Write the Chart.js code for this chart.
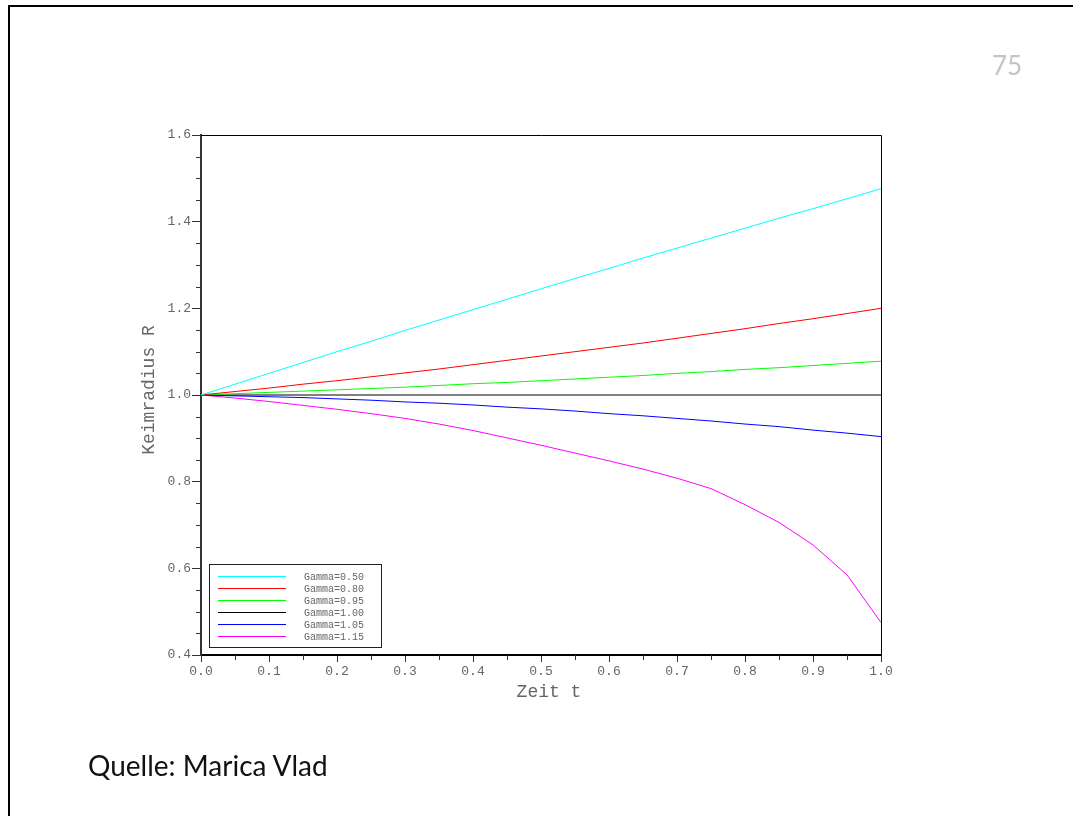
<!DOCTYPE html>
<html>
<head>
<meta charset="utf-8">
<script src="https://cdn.jsdelivr.net/npm/chart.js@4.4.1/dist/chart.umd.min.js"></script>
<style>
  html, body { margin: 0; padding: 0; background: #fff; }
  #page { position: relative; width: 1073px; height: 816px; overflow: hidden; }
  #frame { position: absolute; left: 8px; top: 5px; right: -10px; bottom: -10px;
           border-top: 2px solid #000; border-left: 2px solid #000; }
  #pageNo { position: absolute; left: 992px; top: 49px; font: 26px Lato, sans-serif; color: #c4c4c4; }
  #source { position: absolute; left: 88px; top: 748px; font: 28px Lato, sans-serif; color: #111; }
  #chart { position: absolute; left: 0; top: 0; }
</style>
</head>
<body>
<div id="page">
  <div id="frame"></div>
  <canvas id="chart" width="1073" height="816"></canvas>
  <div id="pageNo">75</div>
  <div id="source">Quelle: Marica Vlad</div>
</div>
<script>
const tValues = [0, 0.05, 0.10, 0.15, 0.20, 0.25, 0.30, 0.35, 0.40, 0.45, 0.50,
                 0.55, 0.60, 0.65, 0.70, 0.75, 0.80, 0.85, 0.90, 0.95, 1.00];

const gamma050 = [1.000, 1.025, 1.050, 1.075, 1.100, 1.124, 1.149, 1.173, 1.197, 1.221, 1.245,
                  1.269, 1.292, 1.316, 1.339, 1.362, 1.385, 1.408, 1.430, 1.453, 1.476];
const gamma080 = [1.000, 1.008, 1.016, 1.025, 1.033, 1.042, 1.051, 1.060, 1.070, 1.080, 1.090,
                  1.100, 1.110, 1.120, 1.131, 1.142, 1.153, 1.165, 1.176, 1.188, 1.200];
const gamma095 = [1.000, 1.003, 1.006, 1.009, 1.012, 1.015, 1.018, 1.022, 1.026, 1.029, 1.033,
                  1.037, 1.041, 1.045, 1.050, 1.054, 1.059, 1.063, 1.068, 1.073, 1.078];
const gamma100 = [1.000, 1.000, 1.000, 1.000, 1.000, 1.000, 1.000, 1.000, 1.000, 1.000, 1.000,
                  1.000, 1.000, 1.000, 1.000, 1.000, 1.000, 1.000, 1.000, 1.000, 1.000];
const gamma105 = [1.000, 0.998, 0.996, 0.994, 0.991, 0.988, 0.984, 0.981, 0.977, 0.972, 0.968,
                  0.963, 0.957, 0.952, 0.946, 0.940, 0.933, 0.927, 0.919, 0.912, 0.904];
const gamma115 = [1.000, 0.993, 0.985, 0.976, 0.967, 0.957, 0.946, 0.933, 0.918, 0.901, 0.884,
                  0.866, 0.848, 0.829, 0.808, 0.784, 0.747, 0.706, 0.654, 0.585, 0.475];

const seriesLabels = ['Gamma=0.50', 'Gamma=0.80', 'Gamma=0.95', 'Gamma=1.00', 'Gamma=1.05', 'Gamma=1.15'];
const seriesColors = ['#00ffff', '#ff0000', '#00ff00', '#000000', '#0000ff', '#ff00ff'];
const seriesValues = [gamma050, gamma080, gamma095, gamma100, gamma105, gamma115];

const xTicks = [0, 0.1, 0.2, 0.3, 0.4, 0.5, 0.6, 0.7, 0.8, 0.9, 1.0];
const xTickLabels = ['0.0', '0.1', '0.2', '0.3', '0.4', '0.5', '0.6', '0.7', '0.8', '0.9', '1.0'];
const yTicks = [0.4, 0.6, 0.8, 1.0, 1.2, 1.4, 1.6];
const yTickLabels = ['0.4', '0.6', '0.8', '1.0', '1.2', '1.4', '1.6'];
const minorStep = 0.05;
const xTitle = 'Zeit t';
const yTitle = 'Keimradius R';

const monoFont = "'Liberation Mono', 'DejaVu Sans Mono', monospace";

// top/right frame, short minor ticks, axis titles, legend box inside the plot
const plotExtras = {
  id: 'plotExtras',
  afterDraw(chart) {
    const ctx = chart.ctx;
    const a = chart.chartArea;
    const xs = chart.scales.x, ys = chart.scales.y;
    ctx.save();
    ctx.strokeStyle = '#000';
    ctx.lineWidth = 1;
    ctx.beginPath();
    ctx.moveTo(a.left, a.top + 0.5);
    ctx.lineTo(a.right + 0.5, a.top + 0.5);
    ctx.lineTo(a.right + 0.5, a.bottom);
    ctx.stroke();

    // minor ticks
    ctx.strokeStyle = '#333';
    ctx.beginPath();
    for (let v = xs.min + minorStep; v < xs.max; v += 2 * minorStep) {
      const px = Math.round(xs.getPixelForValue(v)) + 0.5;
      ctx.moveTo(px, a.bottom);
      ctx.lineTo(px, a.bottom + 5);
    }
    for (let i = 0; i < yTicks.length - 1; i++) {
      for (let k = 1; k < 4; k++) {
        const py = Math.round(ys.getPixelForValue(yTicks[i] + k * minorStep)) + 0.5;
        ctx.moveTo(a.left, py);
        ctx.lineTo(a.left - 5, py);
      }
    }
    ctx.stroke();

    // axis titles (the original sits a bit off-centre)
    ctx.fillStyle = '#666';
    ctx.font = '18px ' + monoFont;
    ctx.textAlign = 'center';
    ctx.textBaseline = 'middle';
    ctx.fillText(xTitle, (a.left + a.right) / 2 + 8, a.bottom + 37);
    ctx.save();
    ctx.translate(a.left - 52, (a.top + a.bottom) / 2 - 5);
    ctx.rotate(-Math.PI / 2);
    ctx.fillText(yTitle, 0, 0);
    ctx.restore();

    // legend
    const bx = a.left + 8, by = a.bottom - 91, bw = 172, bh = 83;
    ctx.fillStyle = '#fff';
    ctx.fillRect(bx, by, bw, bh);
    ctx.strokeStyle = '#222';
    ctx.strokeRect(bx + 0.5, by + 0.5, bw, bh);
    ctx.font = '10px ' + monoFont;
    ctx.textAlign = 'left';
    ctx.textBaseline = 'middle';
    chart.data.datasets.forEach((ds, i) => {
      const y = by + 12 + i * 12;
      ctx.strokeStyle = ds.borderColor;
      ctx.beginPath();
      ctx.moveTo(bx + 9, y + 0.5);
      ctx.lineTo(bx + 77, y + 0.5);
      ctx.stroke();
      ctx.fillStyle = '#666';
      ctx.fillText(ds.label, bx + 95, y + 1);
    });
    ctx.restore();
  }
};

new Chart(document.getElementById('chart'), {
  type: 'line',
  data: {
    datasets: seriesValues.map((vals, i) => ({
      label: seriesLabels[i],
      data: tValues.map((t, j) => ({ x: t, y: vals[j] })),
      borderColor: seriesColors[i],
      backgroundColor: seriesColors[i],
      borderWidth: 1,
      pointRadius: 0,
      tension: 0
    }))
  },
  options: {
    responsive: false,
    animation: false,
    layout: { padding: { left: 130, top: 135, right: 192, bottom: 111 } },
    plugins: { legend: { display: false }, tooltip: { enabled: false } },
    scales: {
      x: {
        type: 'linear',
        min: 0, max: 1,
        afterFit: s => { s.height = 50; },
        afterBuildTicks: s => { s.ticks = xTicks.map(v => ({ value: v })); },
        grid: { drawOnChartArea: false, tickLength: 7, tickColor: '#333' },
        border: { color: '#000', width: 2 },
        ticks: {
          padding: 2,
          color: '#666',
          font: { family: monoFont, size: 13 },
          maxRotation: 0,
          callback: (v, i) => xTickLabels[i]
        }
      },
      y: {
        min: 0.4, max: 1.6,
        afterFit: s => { s.width = 71; },
        afterBuildTicks: s => { s.ticks = yTicks.map(v => ({ value: v })); },
        grid: { drawOnChartArea: false, tickLength: 9, tickColor: '#333' },
        border: { color: '#333', width: 2 },
        ticks: {
          padding: 1,
          color: '#666',
          font: { family: monoFont, size: 13 },
          callback: (v, i) => yTickLabels[i]
        }
      }
    }
  },
  plugins: [plotExtras]
});
</script>
</body>
</html>
